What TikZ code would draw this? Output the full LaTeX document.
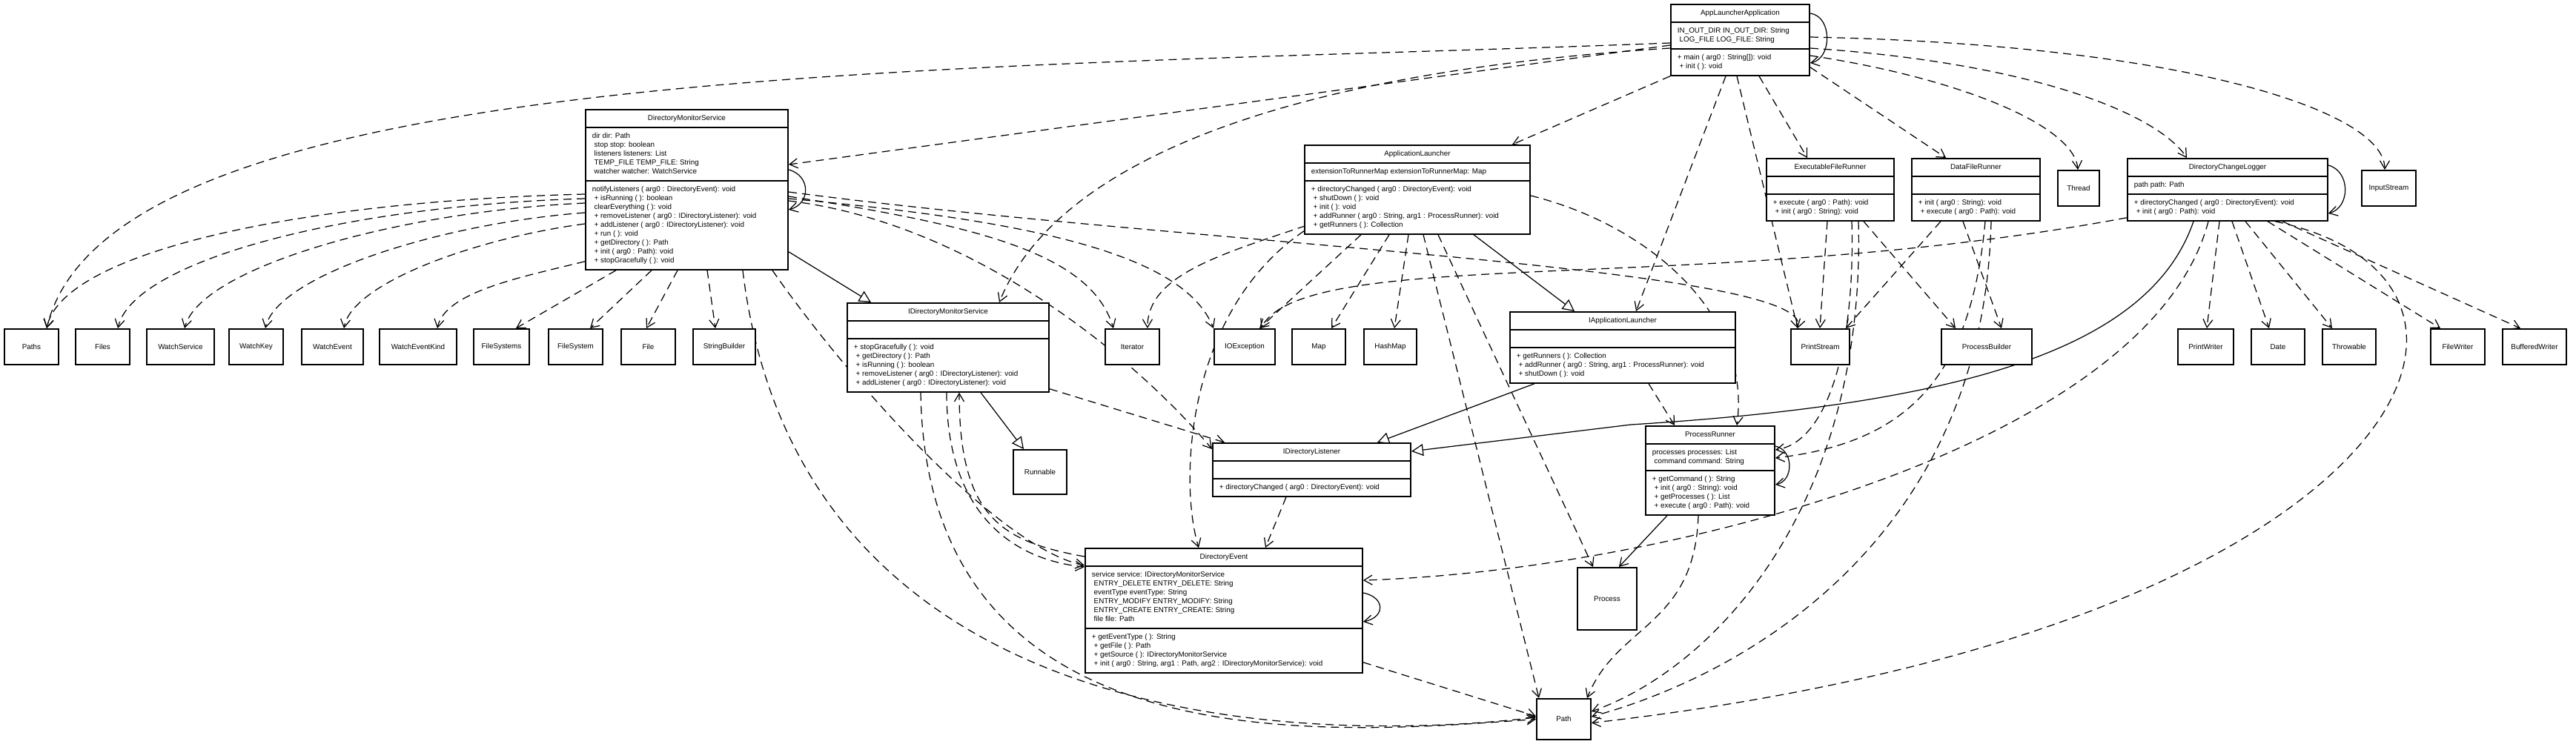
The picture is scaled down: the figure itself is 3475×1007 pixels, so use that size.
\documentclass[tikz,border=0pt]{standalone}
\usepackage{fontspec}
\setmainfont{Liberation Sans}
\usetikzlibrary{arrows.meta,shapes.multipart,calc}

\newlength\px
\setlength\px{0.2mm}
% line break inside a compartment, with the generator's leading blank
\newcommand{\nl}{\\\strut\hspace*{.28em}}

\pgfdeclarelayer{wires}
\pgfsetlayers{wires,main}

\tikzset{
  cls/.style={draw, line width=1.1pt, fill=white, anchor=north west,
    rectangle split, rectangle split parts=3,
    rectangle split part align={center,left,left}, align=left,
    inner xsep=9\px, inner ysep=5\px},
  extbox/.style={draw, line width=1.1pt, fill=white, anchor=north west,
    minimum height=48\px},
  depline/.style={-{Straight Barb[length=2.2mm,width=2.6mm]}, dash pattern=on 2.2mm off 1.4mm, line width=.7pt},
  assocline/.style={-{Straight Barb[length=2.2mm,width=2.6mm]}, line width=.7pt},
  realline/.style={-{Triangle[open,length=3.2mm,width=3.2mm]}, line width=.7pt},
}

\begin{document}
\begin{tikzpicture}[x=0.2mm, y=-0.2mm, font=\fontsize{5.6}{6.83}\selectfont]
\useasboundingbox (0,0) rectangle (3475,1007);

% classes of the project
\node[cls, minimum width=187\px] (ala) at (2253,5)
  {\strut AppLauncherApplication
   \nodepart{two}\strut IN\_OUT\_DIR IN\_OUT\_DIR: String\nl LOG\_FILE LOG\_FILE: String
   \nodepart{three}\strut + main ( arg0 : String[]): void\nl + init ( ): void};
\node[cls, minimum width=273\px] (dms) at (789,147)
  {\strut DirectoryMonitorService
   \nodepart{two}\strut dir dir: Path\nl stop stop: boolean\nl listeners listeners: List\nl TEMP\_FILE TEMP\_FILE: String\nl watcher watcher: WatchService
   \nodepart{three}\strut notifyListeners ( arg0 : DirectoryEvent): void\nl + isRunning ( ): boolean\nl clearEverything ( ): void\nl + removeListener ( arg0 : IDirectoryListener): void\nl + addListener ( arg0 : IDirectoryListener): void\nl + run ( ): void\nl + getDirectory ( ): Path\nl + init ( arg0 : Path): void\nl + stopGracefully ( ): void};
\node[cls, minimum width=304\px] (al) at (1759,195)
  {\strut ApplicationLauncher
   \nodepart{two}\strut extensionToRunnerMap extensionToRunnerMap: Map
   \nodepart{three}\strut + directoryChanged ( arg0 : DirectoryEvent): void\nl + shutDown ( ): void\nl + init ( ): void\nl + addRunner ( arg0 : String, arg1 : ProcessRunner): void\nl + getRunners ( ): Collection};
\node[cls, minimum width=172\px] (efr) at (2382,213)
  {\strut ExecutableFileRunner
   \nodepart{two}\strut
   \nodepart{three}\strut + execute ( arg0 : Path): void\nl + init ( arg0 : String): void};
\node[cls, minimum width=173\px] (dfr) at (2578,213)
  {\strut DataFileRunner
   \nodepart{two}\strut
   \nodepart{three}\strut + init ( arg0 : String): void\nl + execute ( arg0 : Path): void};
\node[cls, minimum width=270\px] (dcl) at (2869,213)
  {\strut DirectoryChangeLogger
   \nodepart{two}\strut path path: Path
   \nodepart{three}\strut + directoryChanged ( arg0 : DirectoryEvent): void\nl + init ( arg0 : Path): void};
\node[cls, minimum width=272\px] (idms) at (1142,408)
  {\strut IDirectoryMonitorService
   \nodepart{two}\strut
   \nodepart{three}\strut + stopGracefully ( ): void\nl + getDirectory ( ): Path\nl + isRunning ( ): boolean\nl + removeListener ( arg0 : IDirectoryListener): void\nl + addListener ( arg0 : IDirectoryListener): void};
\node[cls, minimum width=304\px] (ial) at (2036,420)
  {\strut IApplicationLauncher
   \nodepart{two}\strut
   \nodepart{three}\strut + getRunners ( ): Collection\nl + addRunner ( arg0 : String, arg1 : ProcessRunner): void\nl + shutDown ( ): void};
\node[cls, minimum width=267\px] (idl) at (1635,597)
  {\strut IDirectoryListener
   \nodepart{two}\strut
   \nodepart{three}\strut + directoryChanged ( arg0 : DirectoryEvent): void};
\node[cls, minimum width=174\px] (prunner) at (2219,574)
  {\strut ProcessRunner
   \nodepart{two}\strut processes processes: List\nl command command: String
   \nodepart{three}\strut + getCommand ( ): String\nl + init ( arg0 : String): void\nl + getProcesses ( ): List\nl + execute ( arg0 : Path): void};
\node[cls, minimum width=374\px] (devent) at (1463,739)
  {\strut DirectoryEvent
   \nodepart{two}\strut service service: IDirectoryMonitorService\nl ENTRY\_DELETE ENTRY\_DELETE: String\nl eventType eventType: String\nl ENTRY\_MODIFY ENTRY\_MODIFY: String\nl ENTRY\_CREATE ENTRY\_CREATE: String\nl file file: Path
   \nodepart{three}\strut + getEventType ( ): String\nl + getFile ( ): Path\nl + getSource ( ): IDirectoryMonitorService\nl + init ( arg0 : String, arg1 : Path, arg2 : IDirectoryMonitorService): void};

% library types
\node[extbox, minimum width=56\px] (thread) at (2775,229) {Thread};
\node[extbox, minimum width=73\px] (instream) at (3185,229) {InputStream};
\node[extbox, minimum width=73\px] (paths) at (5,443) {Paths};
\node[extbox, minimum width=73\px] (files) at (101,443) {Files};
\node[extbox, minimum width=91\px] (watchservice) at (197,443) {WatchService};
\node[extbox, minimum width=73\px] (watchkey) at (308,443) {WatchKey};
\node[extbox, minimum width=83\px] (watchevent) at (406,443) {WatchEvent};
\node[extbox, minimum width=104\px] (watchkind) at (511,443) {WatchEventKind};
\node[extbox, minimum width=75\px] (filesystems) at (638,443) {FileSystems};
\node[extbox, minimum width=73\px] (filesystem) at (739,443) {FileSystem};
\node[extbox, minimum width=73\px] (file) at (837,443) {File};
\node[extbox, minimum width=84\px] (strbuilder) at (934,443) {StringBuilder};
\node[extbox, minimum width=73\px] (iterator) at (1490,443) {Iterator};
\node[extbox, minimum width=82\px] (ioexc) at (1637,443) {IOException};
\node[extbox, minimum width=72\px] (map) at (1742,443) {Map};
\node[extbox, minimum width=71\px] (hashmap) at (1839,443) {HashMap};
\node[extbox, minimum width=79\px] (printstream) at (2415,443) {PrintStream};
\node[extbox, minimum width=122\px] (procbuilder) at (2618,443) {ProcessBuilder};
\node[extbox, minimum width=75\px] (printwriter) at (2937,443) {PrintWriter};
\node[extbox, minimum width=72\px] (date) at (3036,443) {Date};
\node[extbox, minimum width=72\px] (throwable) at (3132,443) {Throwable};
\node[extbox, minimum width=73\px] (filewriter) at (3278,443) {FileWriter};
\node[extbox, minimum width=86\px] (bufwriter) at (3375,443) {BufferedWriter};
\node[extbox, minimum width=72\px, minimum height=60\px] (runnable) at (1366,606) {Runnable};
\node[extbox, minimum width=80\px, minimum height=84\px] (process) at (2127,765) {Process};
\node[extbox, minimum width=73\px, minimum height=55\px] (path) at (2072,942) {Path};

\begin{pgfonlayer}{wires}
% AppLauncherApplication
\draw[assocline] ($(ala.north east)+(0,13)$) .. controls +(30,4) and +(30,-6) .. ($(ala.north east)+(0,80)$);
\draw[depline] ($(ala.north west)+(0,53)$) .. controls (1300,95) and (150,80) .. ($(paths.north west)+(58,0)$);
\draw[depline] ($(ala.north west)+(0,56)$) -- ($(dms.north east)+(0,75)$);
\draw[depline] ($(ala.north west)+(0,60)$) .. controls (1700,100) and (1420,230) .. ($(idms.north west)+(206,0)$);
\draw[depline] (ala.south west) -- ($(al.north west)+(281,0)$);
\draw[depline] ($(ala.south west)+(75,0)$) -- ($(ial.north west)+(171,0)$);
\draw[depline] ($(ala.south west)+(90,0)$) -- ($(printstream.north west)+(10,0)$);
\draw[depline] ($(ala.south west)+(120,0)$) -- ($(efr.north west)+(56,0)$);
\draw[depline] ($(ala.south east)+(0,-12)$) -- ($(dfr.north west)+(47,0)$);
\draw[depline] ($(ala.north east)+(0,70)$) .. controls +(200,30) and +(-5,-60) .. ($(thread.north west)+(28,0)$);
\draw[depline] ($(ala.north east)+(0,60)$) .. controls +(300,20) and +(-40,-60) .. ($(dcl.north west)+(81,0)$);
\draw[depline] ($(ala.north east)+(0,45)$) .. controls +(500,10) and +(0,-80) .. ($(instream.north west)+(32,0)$);

% DirectoryMonitorService
\draw[assocline] ($(dms.north east)+(0,82)$) .. controls +(30,8) and +(30,-8) .. ($(dms.north east)+(0,136)$);
\draw[depline] ($(dms.north west)+(0,115)$) .. controls +(-400,10) and +(20,-100) .. ($(paths.north west)+(58,0)$);
\draw[depline] ($(dms.north west)+(0,121)$) .. controls +(-330,10) and +(20,-90) .. ($(files.north west)+(58,0)$);
\draw[depline] ($(dms.north west)+(0,127)$) .. controls +(-260,12) and +(20,-80) .. ($(watchservice.north west)+(52,0)$);
\draw[depline] ($(dms.north west)+(0,140)$) .. controls +(-200,15) and +(15,-70) .. ($(watchkey.north west)+(50,0)$);
\draw[depline] ($(dms.north west)+(0,155)$) .. controls +(-150,20) and +(10,-60) .. ($(watchevent.north west)+(58,0)$);
\draw[depline] ($(dms.south west)+(0,-12)$) .. controls +(-80,20) and +(10,-50) .. ($(watchkind.north west)+(79,0)$);
\draw[depline] ($(dms.south west)+(42,0)$) -- ($(filesystems.north west)+(58,0)$);
\draw[depline] ($(dms.south west)+(90,0)$) -- ($(filesystem.north west)+(57,0)$);
\draw[depline] ($(dms.south west)+(125,0)$) -- ($(file.north west)+(35,0)$);
\draw[depline] ($(dms.south west)+(165,0)$) -- ($(strbuilder.north west)+(31,0)$);
\draw[depline] ($(dms.north east)+(0,118)$) .. controls +(260,40) and +(-30,-100) .. ($(iterator.north west)+(12,0)$);
\draw[depline] ($(dms.north east)+(0,121)$) .. controls +(330,30) and +(-40,-100) .. ($(ioexc.north west)+(0,0)$);
\draw[depline] ($(dms.north east)+(0,124)$) .. controls +(250,30) and +(-100,-120) .. ($(idl.north west)+(0,9)$);
\draw[depline] ($(dms.north east)+(0,112)$) .. controls (1600,330) and (2450,360) .. ($(printstream.north west)+(10,0)$);
\draw[realline] ($(dms.south east)+(0,-25)$) -- ($(idms.north west)+(33,0)$);
\draw[depline] ($(dms.south east)+(-22,0)$) .. controls (1150,520) and (1350,740) .. ($(devent.north west)+(0,24)$);
\draw[depline] ($(dms.south east)+(-62,0)$) .. controls (1080,1010) and (1800,1000) .. ($(path.north west)+(0,26)$);

% ApplicationLauncher
\draw[depline] ($(al.south west)+(2,-12)$) .. controls +(-120,40) and +(0,-70) .. ($(iterator.north east)+(-17,0)$);
\draw[depline] ($(al.south west)+(77,0)$) -- ($(ioexc.north west)+(62,0)$);
\draw[depline] ($(al.south west)+(115,0)$) -- ($(map.north west)+(54,0)$);
\draw[depline] ($(al.south west)+(141,0)$) -- ($(hashmap.north west)+(42,0)$);
\draw[realline] ($(al.south west)+(229,0)$) -- ($(ial.north west)+(88,0)$);
\draw[depline] ($(al.north east)+(0,69)$) .. controls +(160,40) and +(20,-150) .. ($(prunner.north west)+(124,0)$);
\draw[depline] ($(al.south west)+(0,-5)$) .. controls (1600,420) and (1590,650) .. ($(devent.north west)+(154,0)$);
\draw[depline] ($(al.south west)+(161,0)$) -- ($(path.north west)+(4,0)$);
\draw[depline] ($(al.south west)+(181,0)$) -- ($(process.north west)+(22,0)$);

% the runners
\draw[depline] ($(efr.south west)+(83,0)$) -- ($(printstream.north west)+(40,0)$);
\draw[depline] ($(efr.south west)+(132,0)$) -- ($(procbuilder.north west)+(20,0)$);
\draw[depline] ($(efr.south west)+(116,0)$) .. controls +(5,170) and +(70,-10) .. ($(prunner.north east)+(0,33)$);
\draw[depline] ($(efr.south west)+(125,0)$) .. controls +(10,380) and +(170,-60) .. ($(path.north east)+(0,18)$);
\draw[depline] ($(dfr.south west)+(40,0)$) -- ($(printstream.north east)+(-6,0)$);
\draw[depline] ($(dfr.south west)+(70,0)$) -- ($(procbuilder.north west)+(82,0)$);
\draw[depline] ($(dfr.south west)+(100,0)$) .. controls +(-20,220) and +(170,-20) .. ($(prunner.north east)+(0,44)$);
\draw[depline] ($(dfr.south west)+(108,0)$) .. controls +(-10,420) and +(220,-60) .. ($(path.north east)+(0,25)$);

% DirectoryChangeLogger
\draw[assocline] ($(dcl.north east)+(0,10)$) .. controls +(30,8) and +(30,-8) .. ($(dcl.north east)+(0,75)$);
\draw[realline] ($(dcl.south west)+(90,0)$) .. controls (2900,470) and (2650,545) .. (2200,573) -- ($(idl.north east)+(0,12)$);
\draw[depline] ($(dcl.south west)+(110,0)$) .. controls (2900,600) and (2250,770) .. ($(devent.north east)+(0,44)$);
\draw[depline] ($(dcl.south west)+(0,-5)$) .. controls (2300,400) and (1760,330) .. ($(ioexc.north west)+(64,0)$);
\draw[depline] ($(dcl.south west)+(125,0)$) -- ($(printwriter.north west)+(40,0)$);
\draw[depline] ($(dcl.south west)+(142,0)$) -- ($(date.north west)+(25,0)$);
\draw[depline] ($(dcl.south west)+(160,0)$) -- ($(throwable.north west)+(14,0)$);
\draw[depline] ($(dcl.south west)+(190,0)$) -- ($(filewriter.north west)+(14,0)$);
\draw[depline] ($(dcl.south west)+(210,0)$) -- ($(bufwriter.north west)+(25,0)$);
\draw[depline] ($(dcl.south west)+(200,0)$) .. controls (3450,380) and (3250,850) .. ($(path.east)+(0,5)$);

% interfaces
\draw[realline] ($(idms.south west)+(181,0)$) -- ($(runnable.north west)+(15,0)$);
\draw[depline] ($(idms.south east)+(0,-5)$) -- ($(idl.north west)+(17,0)$);
\draw[depline] ($(idms.south west)+(135,0)$) .. controls +(0,160) and +(-100,-10) .. ($(devent.north west)+(0,26)$);
\draw[depline] ($(devent.north west)+(0,12)$) .. controls +(-110,-20) and +(0,170) .. ($(idms.south west)+(152,0)$);
\draw[depline] ($(idms.south west)+(100,0)$) .. controls (1250,1040) and (1800,990) .. (path.west);
\draw[realline] ($(ial.south west)+(34,0)$) -- ($(idl.north east)+(-46,0)$);
\draw[depline] ($(ial.south west)+(188,0)$) -- ($(prunner.north west)+(40,0)$);
\draw[depline] ($(idl.south west)+(100,0)$) -- ($(devent.north west)+(244,0)$);

% ProcessRunner and DirectoryEvent
\draw[assocline] ($(prunner.north east)+(0,28)$) .. controls +(25,5) and +(25,-5) .. ($(prunner.north east)+(0,80)$);
\draw[assocline] ($(prunner.south west)+(30,0)$) -- ($(process.north east)+(-25,0)$);
\draw[depline] ($(prunner.south west)+(72,0)$) .. controls +(-5,150) and +(40,-100) .. ($(path.north east)+(-6,0)$);
\draw[assocline] ($(devent.north east)+(0,61)$) .. controls +(30,6) and +(30,-6) .. ($(devent.north east)+(0,100)$);
\draw[depline] ($(devent.south east)+(0,-15)$) -- ($(path.west)+(0,-4)$);
\end{pgfonlayer}
\end{tikzpicture}
\end{document}
